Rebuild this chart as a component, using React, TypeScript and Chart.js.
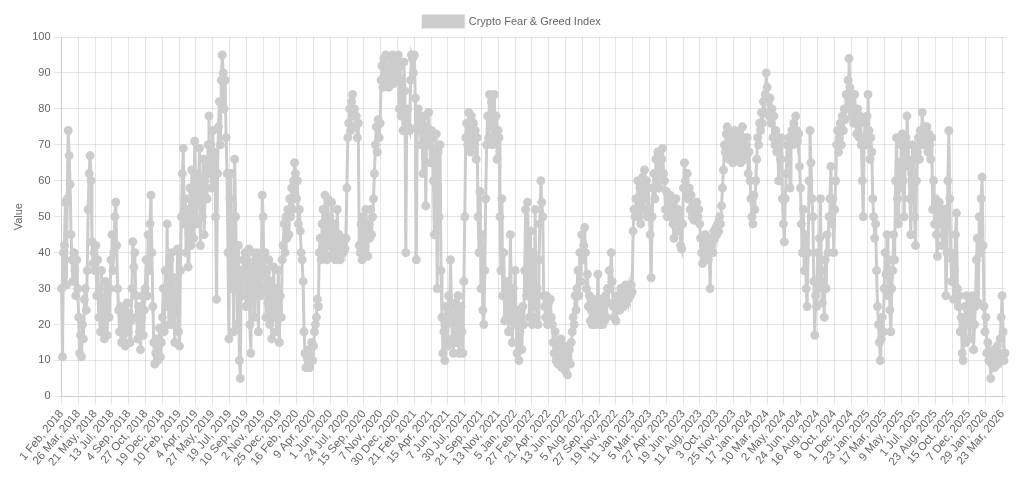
import React, { useEffect, useRef } from 'react';
import { Chart, registerables } from 'chart.js';

Chart.register(...registerables);

// ---- data ----
const MONTHS = ['Jan', 'Feb', 'Mar', 'Apr', 'May', 'Jun', 'Jul', 'Aug', 'Sep', 'Oct', 'Nov', 'Dec'];
const startDate = '2018-02-01';
const endDate = '2026-04-02';
const missingDates = ['2018-04-14', '2018-04-15', '2018-04-16', '2024-10-26'];
const sampleStepDays = 3; // one reading every 3 days
const labelStep = 53;
const seriesLabel = 'Crypto Fear & Greed Index';
const yAxisTitle = 'Value';

// readings every 3 days, starting 1 Feb 2018
const readings2018 = [
  30, 11, 40,
  42, 54, 31, 55, 74, 67, 59,
  45, 38, 32,
  40, 35, 28, 38, 30,
  22, 12, 17, 11,
  20, 16, 27, 30, 24,
  35, 52, 62, 67, 60,
  43, 37, 40, 35, 42, 28, 38,
  22, 30, 18, 35, 20, 27, 16, 32, 24, 17, 30, 22,
  30, 38, 45, 35, 40, 50, 54, 42, 30,
  24, 18, 25, 15, 22, 17, 24, 14, 20, 26, 18, 23, 15, 21,
  30, 43, 36, 40, 28,
  22, 16, 25, 18, 13, 22, 28, 17, 24,
  30, 38, 28, 45, 35, 48, 56, 40, 25,
  15, 9, 12, 16, 10, 14, 19, 11, 15,
  22, 30, 18, 35, 25, 48, 30, 20, 38,
  28, 40, 20, 33, 15, 30, 23, 41, 18, 14,
];
const readings2019 = [
  35, 50, 62, 69, 48, 55, 40, 52, 36,
  45, 58, 42, 63, 50, 44, 71, 60, 48,
  62, 55, 69, 42, 60, 50, 66, 45, 58, 64,
  55, 70, 78, 62, 70, 58, 74, 60, 68, 50, 27,
  62, 75, 82, 70, 88, 95, 90, 80, 88, 72, 62,
  40, 16, 55, 62, 30, 45, 18, 66, 50, 38,
  20, 42, 10, 5, 35, 28,
  38, 33, 40, 25, 38, 30, 41, 20, 12, 36, 30, 40, 22, 38, 32, 40, 18, 38, 28, 35,
  56, 50, 30, 40, 22, 35, 26, 38, 20, 32, 16, 28, 36, 22,
  30, 18, 25, 35, 15, 28, 22,
  38, 42, 48, 40, 50, 44, 52, 45, 55, 50, 58, 52, 60, 65,
];
const readings2020 = [
  62, 55, 60, 48, 52, 46,
  40, 38, 32,
  18, 12, 8, 11, 10, 13, 8, 12, 15,
  10, 14, 18, 20, 22, 27, 25,
  40, 44, 38,
  48, 52, 40, 56, 45, 38, 55, 42, 50, 39, 54, 44, 40, 48, 38, 43, 52, 40, 45, 38,
  42, 44, 40, 43, 41, 44, 58,
  72, 76, 80, 74, 82, 84, 78, 80, 75, 78, 72, 76,
  42, 40, 48, 38, 50, 44, 40, 52, 46, 39, 48, 44, 52, 45, 50, 55,
  62, 70, 75, 68, 77, 72, 76,
  88, 92, 86, 94, 90, 95, 88, 91, 86, 94, 89, 92, 95, 87, 93, 90, 94, 88, 95,
  80, 92, 78, 88, 74, 93, 85, 40, 78, 80, 75, 74,
  88, 95, 94, 90, 95, 83,
];
const readings2021 = [
  38, 75, 80,
  74, 78, 70, 76, 62, 72, 78, 53, 75, 70, 79, 72, 65, 74,
  72, 60, 45, 66, 73, 30, 68, 50, 70, 35,
  22, 12, 18, 10, 25, 20, 14, 28, 22, 38, 25, 16, 12, 20, 26, 15, 22, 28, 12, 20, 25, 18, 12,
  32, 50,
  72, 76, 70, 79, 74, 68, 78, 71, 76, 70, 74, 66, 72,
  50, 40, 57, 30, 45, 24, 20, 35,
  55, 70, 78, 72, 84, 75, 82, 70, 76, 84, 72, 78, 66, 74,
  72, 50, 35, 55, 28, 40, 21,
  30, 22, 32, 18, 28, 45, 25, 15, 30, 22, 35,
  20, 12, 24, 10, 18, 22, 13, 25, 20,
  35, 52, 28, 54, 40, 22, 46, 30, 20,
  40, 25, 52, 22, 30, 20, 38, 48,
];
const readings2022 = [
  60, 54, 50, 28,
  25, 22, 28, 20, 26, 21, 27, 22,
  20, 15, 12, 18, 10, 14, 9, 13, 10, 16, 8, 12, 10, 14, 7, 11, 6, 10, 13, 9, 15,
  18, 22, 20, 28, 24, 30,
  35, 28, 40, 32, 45, 38, 42, 47, 40, 30, 34,
  25, 28, 21, 24, 20, 27, 22, 20, 25, 21, 34, 24, 20, 27, 22, 20, 25, 21, 28, 22,
  30, 26, 35, 30, 40, 32, 25,
  22, 26, 21, 28, 25, 27, 24, 30, 26, 29, 25, 28, 31, 26, 29, 27, 30, 28, 31, 29,
  46, 52, 50, 55, 52, 60, 50, 58, 48, 56, 61, 52, 63, 55, 60, 50, 58, 52, 45, 33, 50,
  58, 62, 55, 66, 60, 68, 58, 64,
];
const readings2023 = [
  63, 66, 69, 62, 60, 52, 57, 50, 55, 52, 56,
  50, 54, 48, 44, 52, 55, 50, 52, 46, 50, 42, 41,
  48, 58, 65, 60, 56, 62, 55, 58, 52, 56, 50,
  52, 49, 53, 50, 54, 50, 52,
  48, 44, 40, 37, 42, 38, 45, 40, 43, 38, 42, 30,
  42, 44, 40, 46, 44, 47, 45, 48, 46, 50, 48, 53,
  58, 63, 70, 68, 73, 75, 70, 66, 72, 68, 73, 65, 71, 74, 68, 72, 66, 70, 73, 65, 70, 75, 68, 72, 66, 70, 72, 62, 68, 60, 55,
  50, 48, 56, 52,
  60, 66, 72, 70, 76, 74, 79, 76, 82, 79, 84, 90, 86, 82, 78, 83, 76, 80, 72, 78, 70,
];
const readings2024 = [
  74, 68, 72, 60, 70, 66, 72, 55, 48, 43, 55, 62, 70, 66, 72, 58,
  72, 74, 70, 76, 72, 78, 74, 71, 73, 64,
  58, 48, 40, 52, 35, 45, 30, 25, 40,
  60, 74, 65, 55, 50, 32, 17, 28, 25, 40, 30, 44, 55, 35, 26, 32, 22, 38,
  30, 45, 40, 50, 55, 64, 48, 55, 40, 52, 60,
  70, 74, 68, 72, 76, 70, 78, 74, 80, 77, 84, 80, 88, 94, 86, 82, 78, 80,
  76, 84, 78, 73, 80, 76, 72, 78, 70, 60, 50, 72, 76, 70, 78, 84, 74, 66, 72, 68,
  55, 50, 44, 48,
  35, 25, 20, 15, 10, 16, 22, 18, 30, 40, 34, 45, 28, 38, 24, 18, 30,
  35, 45, 38, 60, 72, 55, 48, 65, 58,
];
const readings2025 = [
  70, 73, 60, 50, 66, 72, 78, 70, 64, 55, 45, 62, 70, 66, 50, 42, 60,
  68, 72, 66, 74, 70, 79, 74, 70, 75, 72, 75, 68, 73, 70, 66, 72,
  52, 60, 48, 55, 45, 39, 50, 54,
  48, 52, 42, 50, 45, 52, 28, 40, 60, 74, 55, 40,
  32, 38, 27, 35, 45, 51, 30, 25,
  28, 18, 22, 12, 10, 20, 25, 15, 28, 20, 24, 16, 26, 22, 28, 13, 20, 25,
  38, 44, 26, 50, 40, 55, 61, 42,
  25, 18, 22, 12, 15, 10, 12, 5, 9, 11,
  13, 8, 12, 10, 14, 9, 12, 16, 22, 28, 18, 10, 12,
];

function buildLabels(): string[] {
  const labels: string[] = [];
  const d = new Date(startDate + 'T00:00:00Z');
  const end = new Date(endDate + 'T00:00:00Z');
  while (d.getTime() <= end.getTime()) {
    const iso = d.toISOString().slice(0, 10);
    if (!missingDates.includes(iso)) {
      labels.push(`${d.getUTCDate()} ${MONTHS[d.getUTCMonth()]}, ${d.getUTCFullYear()}`);
    }
    d.setUTCDate(d.getUTCDate() + 1);
  }
  return labels;
}

export default function App() {
  const canvasRef = useRef<HTMLCanvasElement | null>(null);

  useEffect(() => {
    if (!canvasRef.current) return;
    const labels = buildLabels();
    const readings = [
      ...readings2018, ...readings2019, ...readings2020, ...readings2021,
      ...readings2022, ...readings2023, ...readings2024, ...readings2025,
    ];
    const series: (number | null)[] = new Array(labels.length).fill(null);
    readings.forEach((v, i) => {
      const idx = i * sampleStepDays;
      if (idx < labels.length) series[idx] = v;
    });

    Chart.defaults.font.size = 11;
    const gray = '#cccccc';
    const chart = new Chart(canvasRef.current, {
      type: 'line',
      data: {
        labels,
        datasets: [
          {
            label: seriesLabel,
            data: series,
            borderColor: gray,
            backgroundColor: gray,
            pointBackgroundColor: gray,
            pointBorderColor: gray,
            borderWidth: 3,
            pointRadius: 3,
            spanGaps: true,
            fill: false,
            tension: 0,
          },
        ],
      },
      options: {
        animation: false,
        responsive: true,
        maintainAspectRatio: false,
        plugins: {
          legend: { display: true, position: 'top' },
          tooltip: { enabled: false },
        },
        scales: {
          x: {
            ticks: { autoSkip: false, maxRotation: 50, minRotation: 0, font: { size: 11.5 } },
            afterBuildTicks: (scale: any) => {
              scale.ticks = scale.ticks.filter((_t: any, i: number) => i % labelStep === 0);
            },
          },
          y: {
            min: 0,
            max: 100,
            ticks: { stepSize: 10 },
            title: { display: true, text: yAxisTitle },
          },
        },
      },
    });
    return () => chart.destroy();
  }, []);

  return (
    <div style={{ position: 'relative', height: 466, marginTop: -2 }}>
      <canvas ref={canvasRef} />
    </div>
  );
}
